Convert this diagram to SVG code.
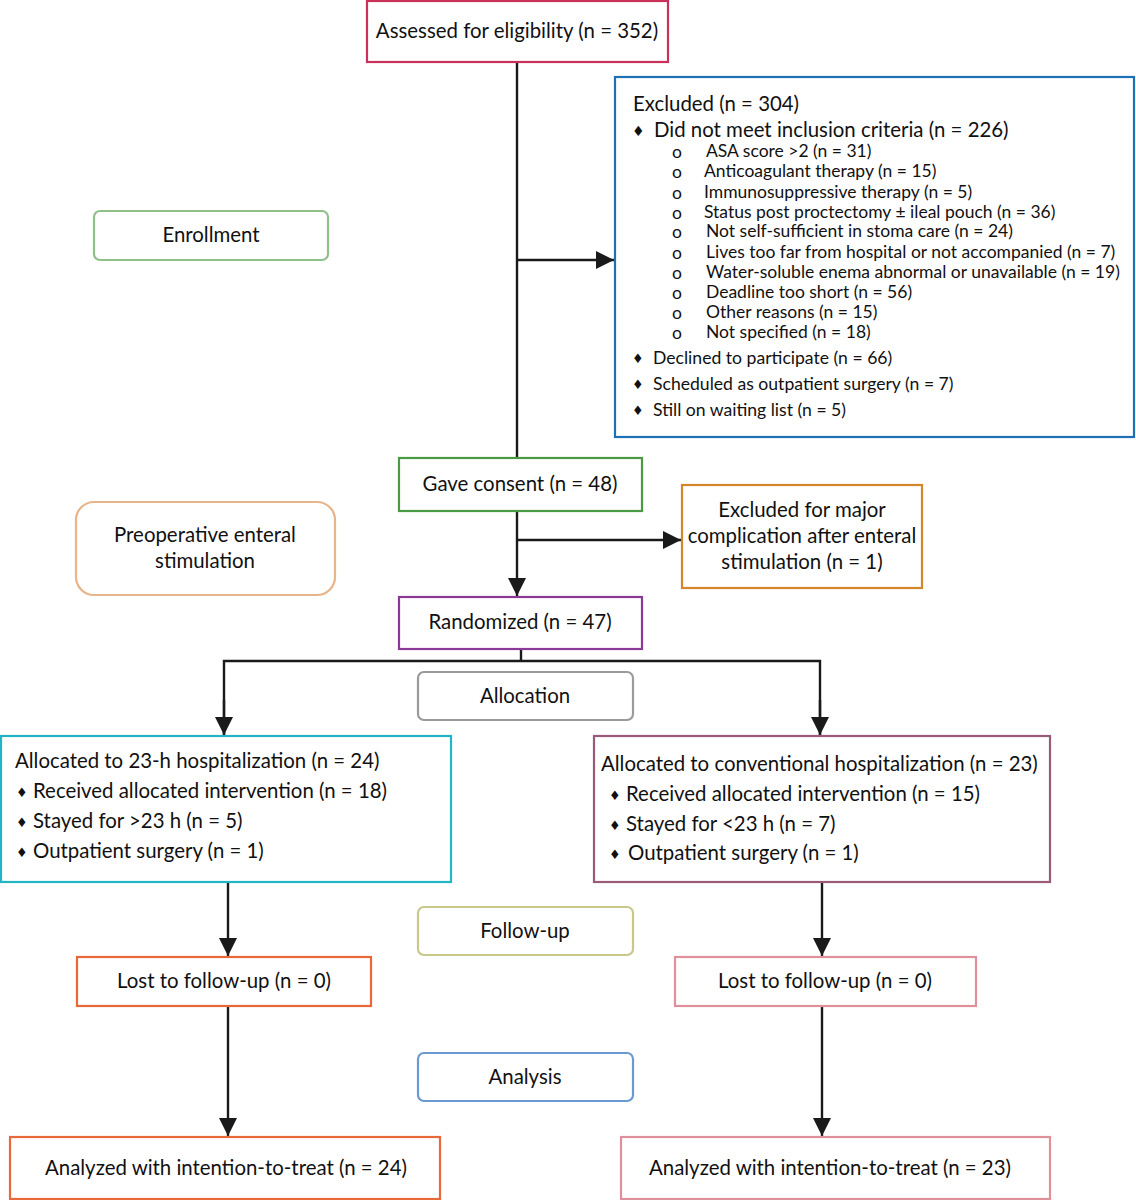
<svg xmlns="http://www.w3.org/2000/svg" width="1136" height="1200" viewBox="0 0 1136 1200">
<style>
  text { font-family: Lato, "Liberation Sans", sans-serif; fill: #111; }
  .t { font-size: 20.4px; }
  .c { text-anchor: middle; }
  .s { font-size: 17.5px; }
  .m { font-size: 17.6px; }
  .b { font-family: "DejaVu Sans", sans-serif; }
  .box { fill: #fff; stroke-width: 2.2; }
  .line { stroke: #1a1a1a; stroke-width: 2.4; fill: none; }
</style>
<defs>
  <marker id="arr" viewBox="0 0 10 10" refX="10" refY="5" markerWidth="7.5" markerHeight="7.5" markerUnits="strokeWidth" orient="auto">
    <path d="M0,0 L10,5 L0,10 z" fill="#1a1a1a"/>
  </marker>
</defs>
<rect width="1136" height="1200" fill="#fff"/>

<g id="connectors">
  <line class="line" x1="517" y1="62" x2="517" y2="458"/>
  <line class="line" x1="517" y1="260" x2="614" y2="260" marker-end="url(#arr)"/>
  <line class="line" x1="517" y1="511" x2="517" y2="596" marker-end="url(#arr)"/>
  <line class="line" x1="517" y1="540" x2="681" y2="540" marker-end="url(#arr)"/>
  <line class="line" x1="521" y1="649" x2="521" y2="661"/>
  <polyline class="line" points="224,735 224,661 820,661 820,735" />
  <line class="line" x1="224" y1="700" x2="224" y2="735" marker-end="url(#arr)"/>
  <line class="line" x1="820" y1="700" x2="820" y2="735" marker-end="url(#arr)"/>
  <line class="line" x1="228" y1="882" x2="228" y2="956" marker-end="url(#arr)"/>
  <line class="line" x1="228" y1="1006" x2="228" y2="1136" marker-end="url(#arr)"/>
  <line class="line" x1="822" y1="882" x2="822" y2="956" marker-end="url(#arr)"/>
  <line class="line" x1="822" y1="1006" x2="822" y2="1136" marker-end="url(#arr)"/>
</g>

<g id="assessed">
  <rect class="box" x="367" y="1" width="301" height="61" stroke="#c8325a"/>
  <text class="t c" x="517" y="38">Assessed for eligibility (n = 352)</text>
</g>

<g id="excluded">
  <rect class="box" x="615" y="77" width="519" height="360" stroke="#1f6fb5" stroke-width="2.6"/>
  <text class="t" x="633" y="111">Excluded (n = 304)</text>
  <text class="b" x="632" y="136" font-size="14">♦</text>
  <text class="t" x="654" y="137">Did not meet inclusion criteria (n = 226)</text>
  <g>
    <text class="s" x="672" y="158">o</text><text class="s" x="706" y="157">ASA score &gt;2 (n = 31)</text>
    <text class="s" x="672" y="178">o</text><text class="s" x="704" y="177">Anticoagulant therapy (n = 15)</text>
    <text class="s" x="672" y="199">o</text><text class="s" x="704" y="198">Immunosuppressive therapy (n = 5)</text>
    <text class="s" x="672" y="219">o</text><text class="s" x="704" y="218">Status post proctectomy ± ileal pouch (n = 36)</text>
    <text class="s" x="672" y="238">o</text><text class="s" x="706" y="237">Not self-sufficient in stoma care (n = 24)</text>
    <text class="s" x="672" y="259">o</text><text class="s" x="706" y="258">Lives too far from hospital or not accompanied (n = 7)</text>
    <text class="s" x="672" y="279">o</text><text class="s" x="706" y="278">Water-soluble enema abnormal or unavailable (n = 19)</text>
    <text class="s" x="672" y="299">o</text><text class="s" x="706" y="298">Deadline too short (n = 56)</text>
    <text class="s" x="672" y="319">o</text><text class="s" x="706" y="318">Other reasons (n = 15)</text>
    <text class="s" x="672" y="339">o</text><text class="s" x="706" y="338">Not specified (n = 18)</text>
  </g>
  <text class="b" x="632" y="363" font-size="13">♦</text>
  <text class="m" x="653" y="364">Declined to participate (n = 66)</text>
  <text class="b" x="632" y="389" font-size="13">♦</text>
  <text class="m" x="653" y="390">Scheduled as outpatient surgery (n = 7)</text>
  <text class="b" x="632" y="415" font-size="13">♦</text>
  <text class="m" x="653" y="416">Still on waiting list (n = 5)</text>
</g>

<g id="enrollment">
  <rect class="box" x="94" y="211" width="234" height="49" rx="6" stroke="#8fc08a"/>
  <text class="t c" x="211" y="242">Enrollment</text>
</g>

<g id="consent">
  <rect class="box" x="399" y="458" width="243" height="53" stroke="#4a9a44"/>
  <text class="t c" x="520" y="491">Gave consent (n = 48)</text>
</g>

<g id="excluded-major">
  <rect class="box" x="682" y="485" width="240" height="103" stroke="#d4862a"/>
  <text class="t c" x="802" y="517">Excluded for major</text>
  <text class="t c" x="802" y="543">complication after enteral</text>
  <text class="t c" x="802" y="569">stimulation (n = 1)</text>
</g>

<g id="preoperative">
  <rect class="box" x="76" y="502" width="259" height="93" rx="18" stroke="#e8b48a"/>
  <text class="t c" x="205" y="542">Preoperative enteral</text>
  <text class="t c" x="205" y="568">stimulation</text>
</g>

<g id="randomized">
  <rect class="box" x="399" y="597" width="243" height="52" stroke="#8a3a96"/>
  <text class="t c" x="520" y="629">Randomized (n = 47)</text>
</g>

<g id="allocation">
  <rect class="box" x="418" y="672" width="215" height="48" rx="6" stroke="#9a9a9a"/>
  <text class="t c" x="525" y="703">Allocation</text>
</g>

<g id="alloc-left">
  <rect class="box" x="1" y="736" width="450" height="146" stroke="#22b5c3"/>
  <text class="t" x="15" y="768">Allocated to 23-h hospitalization (n = 24)</text>
  <text class="b" x="16" y="797" font-size="13">♦</text>
  <text class="t" x="33" y="798">Received allocated intervention (n = 18)</text>
  <text class="b" x="16" y="827" font-size="13">♦</text>
  <text class="t" x="33" y="828">Stayed for &gt;23 h (n = 5)</text>
  <text class="b" x="16" y="857" font-size="13">♦</text>
  <text class="t" x="33" y="858">Outpatient surgery (n = 1)</text>
</g>

<g id="alloc-right">
  <rect class="box" x="594" y="736" width="456" height="146" stroke="#9a5a7a"/>
  <text class="t" x="601" y="771">Allocated to conventional hospitalization (n = 23)</text>
  <text class="b" x="609" y="800" font-size="13">♦</text>
  <text class="t" x="626" y="801">Received allocated intervention (n = 15)</text>
  <text class="b" x="609" y="830" font-size="13">♦</text>
  <text class="t" x="626" y="831">Stayed for &lt;23 h (n = 7)</text>
  <text class="b" x="609" y="859" font-size="13">♦</text>
  <text class="t" x="628" y="860">Outpatient surgery (n = 1)</text>
</g>

<g id="followup">
  <rect class="box" x="418" y="907" width="215" height="48" rx="6" stroke="#c8c88a"/>
  <text class="t c" x="525" y="938">Follow-up</text>
</g>

<g id="lost-left">
  <rect class="box" x="77" y="957" width="294" height="49" stroke="#e8683a"/>
  <text class="t c" x="224" y="988">Lost to follow-up (n = 0)</text>
</g>

<g id="lost-right">
  <rect class="box" x="675" y="957" width="301" height="49" stroke="#e0909a"/>
  <text class="t c" x="825" y="988">Lost to follow-up (n = 0)</text>
</g>

<g id="analysis">
  <rect class="box" x="418" y="1053" width="215" height="48" rx="6" stroke="#6a9ad0"/>
  <text class="t c" x="525" y="1084">Analysis</text>
</g>

<g id="analyzed-left">
  <rect class="box" x="10" y="1137" width="430" height="62" stroke="#e8683a"/>
  <text class="t c" x="226" y="1175">Analyzed with intention-to-treat (n = 24)</text>
</g>

<g id="analyzed-right">
  <rect class="box" x="621" y="1137" width="429" height="62" stroke="#e0909a"/>
  <text class="t c" x="830" y="1175">Analyzed with intention-to-treat (n = 23)</text>
</g>
</svg>
